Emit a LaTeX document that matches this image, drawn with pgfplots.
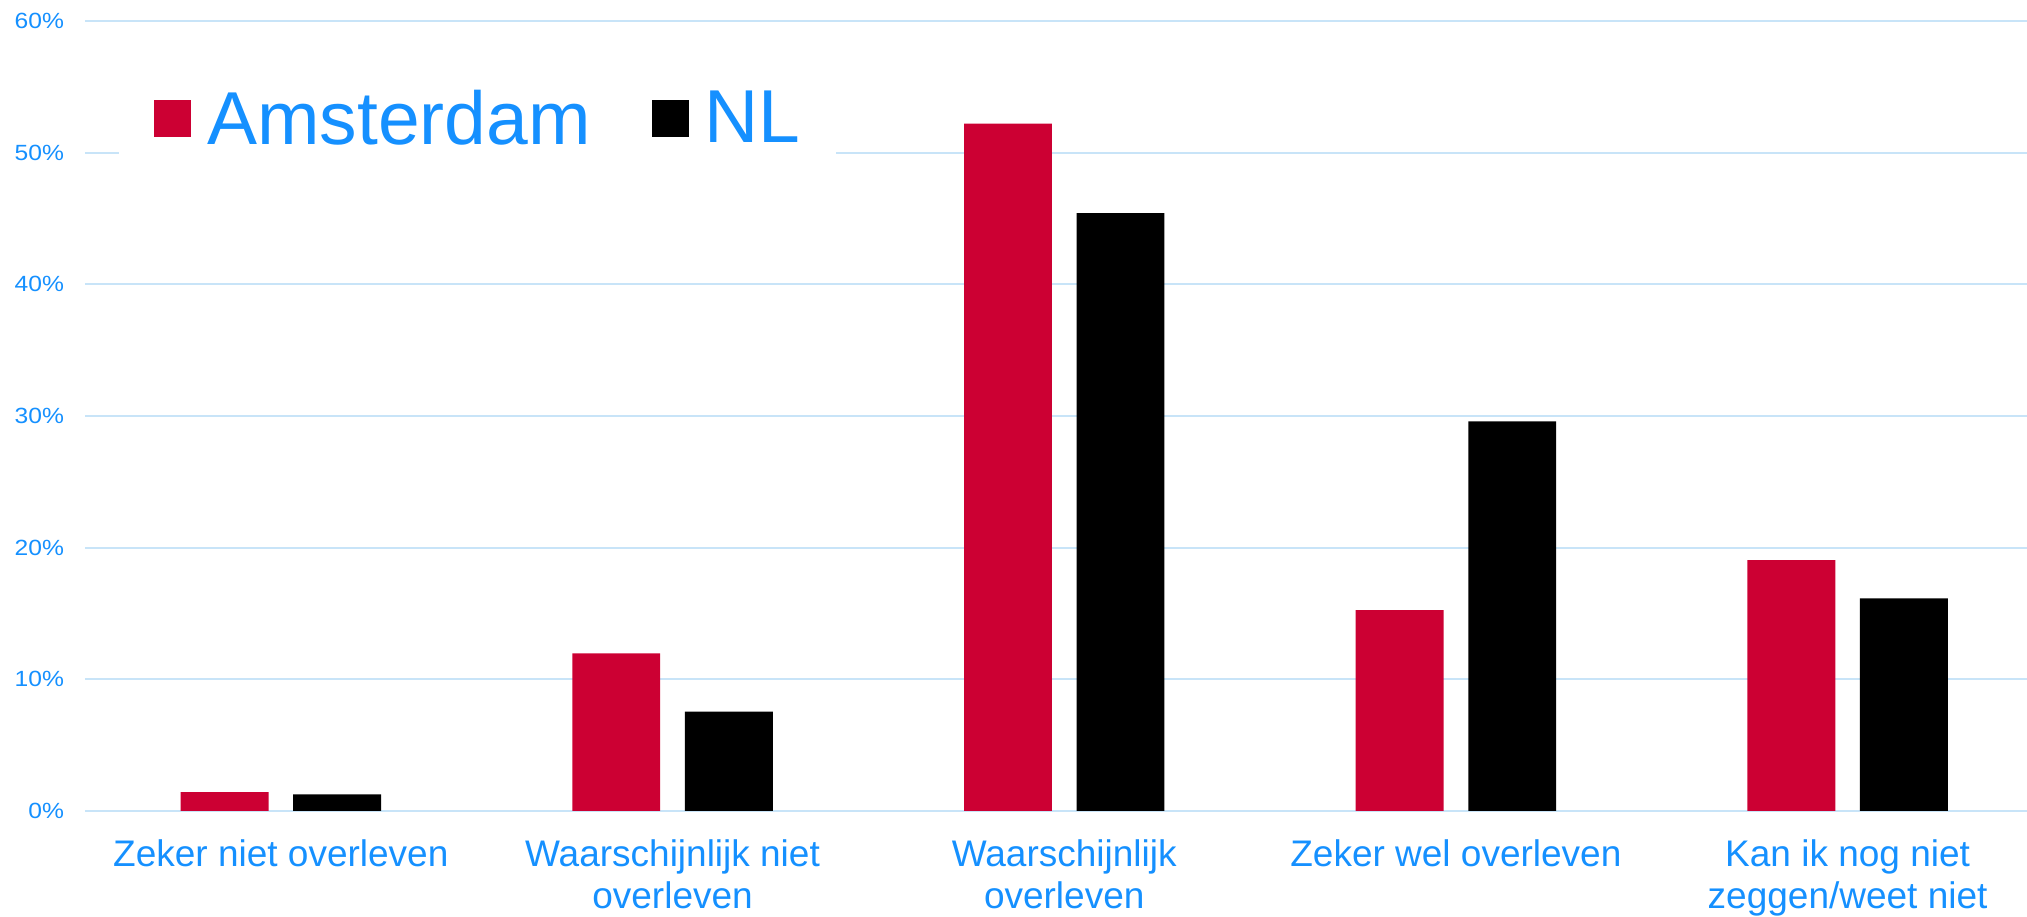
\documentclass[border=0pt]{standalone}
\usepackage{fontspec}
\setmainfont{Liberation Sans}
\newfontfamily\tickfont[FakeStretch=1.12]{Liberation Sans}
\usepackage{pgfplots}
\pgfplotsset{compat=1.18}
\definecolor{amsred}{HTML}{CC0033}
\definecolor{txtblue}{HTML}{1590FF}
\definecolor{gridblue}{HTML}{C8E4F8}

\begin{document}
\begin{tikzpicture}
\useasboundingbox (-42.5bp,-53bp) rectangle (971bp,405.5bp);
\begin{axis}[
  scale only axis, width=971bp, height=395bp,
  xmin=-0.5, xmax=4.458, ymin=0, ymax=60,
  axis line style={draw=none},
  major tick length=0pt,
  ymajorgrids, grid style={gridblue, line width=0.9bp},
  ytick={0,10,...,60},
  yticklabel={\pgfmathprintnumber{\tick}\%},
  /pgf/number format/assume math mode=true,
  yticklabel style={font=\tickfont\fontsize{11bp}{13bp}\selectfont, text=txtblue, xshift=-7bp},
  xtick={0,...,4},
  xticklabels={Zeker niet overleven, {Waarschijnlijk niet\\overleven}, {Waarschijnlijk\\overleven}, Zeker wel overleven, {Kan ik nog niet\\zeggen/weet niet}},
  xticklabel style={font=\fontsize{18.5bp}{21bp}\selectfont, text=txtblue, align=center, yshift=-11bp},
  ybar, bar width=43.95bp,
  legend columns=2,
  legend image code/.code={\fill[#1] (0bp,-9.25bp) rectangle (18.5bp,9.25bp); \path (26.5bp,0bp);},
  legend style={at={(0.0175,0.8766)}, anchor=west, draw=none, fill=white,
    inner xsep=17.5bp, inner ysep=6bp,
    font=\fontsize{37.5bp}{40bp}\selectfont, text=txtblue,
    nodes={inner sep=0pt},
    /tikz/every even column/.append style={column sep=30.5bp}},
]
\addplot[fill=amsred, draw=none, bar shift=-28.14bp] coordinates {(0,1.44) (1,11.97) (2,52.2) (3,15.26) (4,19.06)};
\addplot[fill=black, draw=none, bar shift=28.14bp] coordinates {(0,1.27) (1,7.54) (2,45.4) (3,29.6) (4,16.15)};
\legend{Amsterdam, NL}
\end{axis}
\end{tikzpicture}
\end{document}
